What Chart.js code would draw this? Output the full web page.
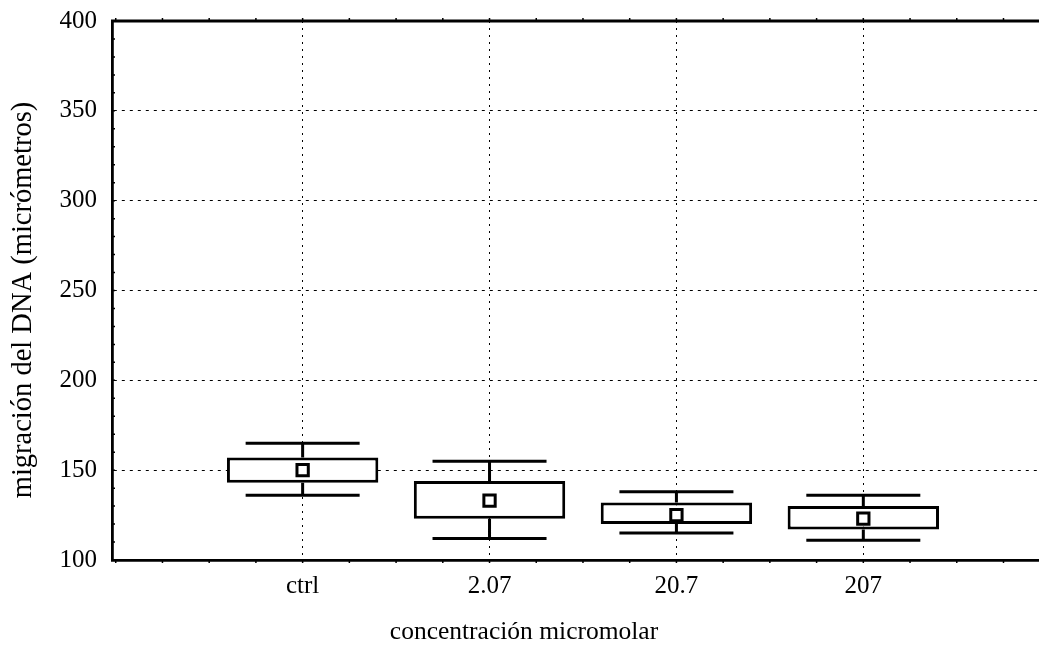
<!DOCTYPE html>
<html>
<head>
<meta charset="utf-8">
<script src="https://cdn.jsdelivr.net/npm/chart.js@4"></script>
<style>
  html, body { margin: 0; padding: 0; background: #fff; }
  #wrap { width: 1039px; height: 650px; position: relative; }
</style>
</head>
<body>
<div id="wrap"><canvas id="boxChart"></canvas></div>
<script>
// values (micrometres)
const categories = ['ctrl', '2.07', '20.7', '207'];
const xPositions = [1, 2, 3, 4];
const whiskerLow = [136, 112, 115, 111];
const boxLow = [143, 123, 120, 117];
const boxHigh = [157, 144, 132, 130];
const whiskerHigh = [165, 155, 138, 136];
const means = [150, 133, 125, 123];

const yTicks = [100, 150, 200, 250, 300, 350, 400];
const xTitle = 'concentración micromolar';
const yTitle = 'migración del DNA (micrómetros)';

const capHalf = 0.305; // half width of whisker caps, in x units
const serif = "'Liberation Serif', 'Times New Roman', serif";

/**
 * Builds line segments (separated by gaps) for whiskers and caps.
 */
function whiskerSegments() {
    const pts = [];
    xPositions.forEach((x, i) => {
        pts.push({ x: x, y: boxHigh[i] }, { x: x, y: whiskerHigh[i] }, { x: x, y: null });
        pts.push({ x: x - capHalf, y: whiskerHigh[i] }, { x: x + capHalf, y: whiskerHigh[i] }, { x: x, y: null });
        pts.push({ x: x, y: boxLow[i] }, { x: x, y: whiskerLow[i] }, { x: x, y: null });
        pts.push({ x: x - capHalf, y: whiskerLow[i] }, { x: x + capHalf, y: whiskerLow[i] }, { x: x, y: null });
    });
    return pts;
}

/**
 * Draws the top frame line, the small minor ticks on the frame
 * and the two axis titles (placed like in the original figure).
 */
const frameTicks = {
    id: 'frameTicks',
    afterDraw(chart) {
        const { ctx, chartArea: area, scales: { x, y } } = chart;
        ctx.save();
        ctx.strokeStyle = '#000';
        ctx.lineWidth = 2.8;
        ctx.beginPath();
        ctx.moveTo(area.left - 1, area.top);
        ctx.lineTo(chart.width, area.top);
        ctx.stroke();

        ctx.lineWidth = 1.5;
        ctx.beginPath();
        for (let v = 0; v <= x.max; v += 0.25) {
            const px = x.getPixelForValue(v);
            ctx.moveTo(px, area.bottom);
            ctx.lineTo(px, area.bottom + 3);
            ctx.moveTo(px, area.top);
            ctx.lineTo(px, area.top - 3);
        }
        for (let v = y.min; v <= y.max; v += 10) {
            const py = y.getPixelForValue(v);
            ctx.moveTo(area.left, py);
            ctx.lineTo(area.left + 3, py);
        }
        ctx.stroke();

        // axis titles
        ctx.fillStyle = '#000';
        ctx.font = `25.5px ${serif}`;
        ctx.textAlign = 'center';
        ctx.textBaseline = 'alphabetic';
        ctx.fillText(xTitle, 524, 639);

        ctx.translate(24, 300);
        ctx.rotate(-Math.PI / 2);
        ctx.font = `28.5px ${serif}`;
        ctx.textBaseline = 'middle';
        ctx.fillText(yTitle, 0, 0);
        ctx.restore();
    }
};

const ctx = document.getElementById('boxChart').getContext('2d');
new Chart(ctx, {
    type: 'bar',
    data: {
        datasets: [
            {
                type: 'bar',
                data: xPositions.map((x, i) => ({ x: x, y: [boxLow[i], boxHigh[i]] })),
                backgroundColor: '#fff',
                borderColor: '#000',
                borderWidth: 3,
                borderSkipped: false,
                barPercentage: 0.81,
                categoryPercentage: 1,
                order: 2
            },
            {
                type: 'line',
                data: whiskerSegments(),
                borderColor: '#000',
                borderWidth: 3,
                pointRadius: 0,
                spanGaps: false,
                order: 3
            },
            {
                type: 'scatter',
                data: xPositions.map((x, i) => ({ x: x, y: means[i] })),
                pointStyle: 'rect',
                radius: 8,
                backgroundColor: '#fff',
                borderColor: '#000',
                borderWidth: 3,
                order: 1
            }
        ]
    },
    options: {
        responsive: true,
        maintainAspectRatio: false,
        animation: false,
        layout: { autoPadding: false, padding: { top: 21, right: 0, left: 0, bottom: 0 } },
        plugins: {
            legend: { display: false },
            tooltip: { enabled: false }
        },
        scales: {
            x: {
                type: 'linear',
                min: -0.02,
                max: 4.94,
                offset: false,
                afterBuildTicks: axis => { axis.ticks = xPositions.map(v => ({ value: v })); },
                afterFit: axis => {
                    axis.height = 90;
                    axis.paddingRight = 0;
                    axis.paddingLeft = 0;
                },
                grid: { offset: false, color: '#000', lineWidth: 1, drawTicks: false },
                border: { display: true, color: '#000', width: 2.8, dash: [2, 5] },
                ticks: {
                    color: '#000',
                    padding: 11,
                    font: { family: serif, size: 25 },
                    callback: v => categories[xPositions.indexOf(v)] ?? ''
                },
                title: { display: false }
            },
            y: {
                min: 100,
                max: 400,
                afterBuildTicks: axis => { axis.ticks = yTicks.map(v => ({ value: v })); },
                afterFit: axis => {
                    axis.width = 112;
                    axis.paddingTop = 0;
                    axis.paddingBottom = 0;
                },
                grid: {
                    color: c => (c.tick && (c.tick.value === 100 || c.tick.value === 400)) ? 'rgba(0,0,0,0)' : '#000',
                    lineWidth: 1,
                    drawTicks: false
                },
                border: { display: true, color: '#000', width: 2.8, dash: [3, 5] },
                ticks: {
                    color: '#000',
                    padding: 15,
                    font: { family: serif, size: 25 }
                },
                title: { display: false }
            }
        }
    },
    plugins: [frameTicks]
});
</script>
</body>
</html>
